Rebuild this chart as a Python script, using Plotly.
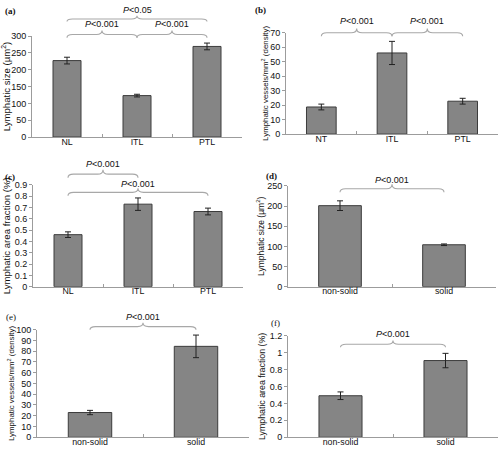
import plotly.graph_objects as go

W, H = 499, 454

# ---------------- data ----------------
cats_abc = ["NL", "ITL", "PTL"]
cats_b = ["NT", "ITL", "PTL"]
cats_def = ["non-solid", "solid"]

size_a = [227, 123, 269]
size_a_err = [10, 4, 10]
dens_b = [18.7, 56, 22.7]
dens_b_err = [2, 8, 2]
frac_c = [0.46, 0.73, 0.665]
frac_c_err = [0.025, 0.055, 0.03]
size_d = [201, 104]
size_d_err = [12, 2]
dens_e = [23, 84.5]
dens_e_err = [2, 10.5]
frac_f = [0.49, 0.905]
frac_f_err = [0.045, 0.085]

# comparisons: (group i, group j, p-value text)
cmp_a = [(0, 1, "0.001"), (1, 2, "0.001"), (0, 2, "0.05")]
cmp_b = [(0, 1, "0.001"), (1, 2, "0.001")]
cmp_c = [(0, 1, "0.001"), (0, 2, "0.001")]
cmp_d = [(0, 1, "0.001")]
cmp_e = [(0, 1, "0.001")]
cmp_f = [(0, 1, "0.001")]

T_SIZE = "Lymphatic size (µm<sup>2</sup>)"
T_DENS = "Lymphatic vessels/mm<sup>2</sup> (density)"
T_FRAC = "Lymphatic area fraction (%)"

# ---------------- layout spec (pixel boxes, styles) ----------------
# box: (left, top, right, bottom) in px; bracket levels: (base, tip, label) in data units
panels = [
    dict(tag="(a)", cats=cats_abc, y=size_a, e=size_a_err, cmp=cmp_a, title=T_SIZE,
         box=(32, 31.7, 242, 135), ymax=300, dtick=50, tfs=9.6, stand=3, bw=0.4,
         lev=[(295, 316, 337), (295, 316, 337), (343, 360, 377)], lab=(10, 6), bold=True),
    dict(tag="(b)", cats=cats_b, y=dens_b, e=dens_b_err, cmp=cmp_b, title=T_DENS,
         box=(286, 28.3, 498, 132), ymax=70, dtick=10, tfs=7.9, stand=0, bw=0.42,
         lev=[(67.5, 72.9, 78.3), (67.5, 72.9, 78.3)], lab=(260, 5), bold=True),
    dict(tag="(c)", cats=cats_abc, y=frac_c, e=frac_c_err, cmp=cmp_c, title=T_FRAC,
         box=(33, 184, 243, 288), ymax=0.9, dtick=0.1, tfs=9.6, stand=2, bw=0.4,
         lev=[(0.963, 1.035, 1.084), (0.805, 0.871, 0.906)], lab=(10, 175.5), bold=True),
    dict(tag="(d)", cats=cats_def, y=size_d, e=size_d_err, cmp=cmp_d, title=T_SIZE,
         box=(288, 185, 496, 288), ymax=250, dtick=50, tfs=8.5, stand=1, bw=0.41,
         lev=[(234, 254, 264.6)], lab=(271, 174.5), bold=True),
    dict(tag="(e)", cats=cats_def, y=dens_e, e=dens_e_err, cmp=cmp_e, title=T_DENS,
         box=(37, 332, 249, 442), ymax=100, dtick=10, tfs=7.9, stand=0, bw=0.41,
         lev=[(100, 106.4, 111.8)], lab=(11, 319), bold=False),
    dict(tag="(f)", cats=cats_def, y=frac_f, e=frac_f_err, cmp=cmp_f, title=T_FRAC,
         box=(288, 338, 498, 442), ymax=1.2, dtick=0.2, tfs=8.8, stand=2, bw=0.41,
         lev=[(1.061, 1.142, 1.215)], lab=(275, 325), bold=False),
]

FONT = "Liberation Sans, Arial, sans-serif"
AXC = "#9c9c9c"
BRC = "#a8a8a8"

fig = go.Figure()
layout = dict(width=W, height=H, margin=dict(l=0, r=0, t=0, b=0),
              plot_bgcolor="white", paper_bgcolor="white", showlegend=False,
              font=dict(family=FONT, size=9, color="#111"), hovermode=False)
shapes, annots = [], []

for k, p in enumerate(panels):
    n = k + 1
    xa = "x" if n == 1 else f"x{n}"
    ya = "y" if n == 1 else f"y{n}"
    L, T, R, B = p["box"]
    nc = len(p["cats"])
    xs = list(range(nc))
    fig.add_trace(go.Bar(
        x=xs, y=p["y"], width=p["bw"], xaxis=xa, yaxis=ya,
        marker=dict(color="#858585", line=dict(color="#3c3c3c", width=1)),
        error_y=dict(type="data", array=p["e"], visible=True, color="#222",
                     thickness=1, width=3),
    ))
    layout["xaxis" if n == 1 else f"xaxis{n}"] = dict(
        domain=[L / W, R / W], anchor=ya, range=[-0.5, nc - 0.5],
        tickmode="array", tickvals=xs, ticktext=p["cats"], ticks="",
        ticklabelstandoff=-4,
        showline=True, linecolor=AXC, linewidth=1, showgrid=False, zeroline=False,
        tickfont=dict(size=8.8, color="#111"), fixedrange=True,
        minor=dict(tickmode="array", tickvals=[i + 0.5 for i in range(nc - 1)],
                   ticks="inside", ticklen=3, tickcolor=AXC, showgrid=False),
    )
    layout["yaxis" if n == 1 else f"yaxis{n}"] = dict(
        domain=[1 - B / H, 1 - T / H], anchor=xa, range=[0, p["ymax"]],
        dtick=p["dtick"], tick0=0, ticks="outside", ticklen=3, tickcolor=AXC,
        showline=True, linecolor=AXC, linewidth=1, showgrid=False, zeroline=False,
        tickfont=dict(size=9, color="#111"), fixedrange=True,
        title=dict(text=p["title"], font=dict(size=p["tfs"], color="#111"),
                   standoff=p["stand"]),
    )
    # braces
    pxu = (R - L) / nc
    dx = 5.5 / pxu
    ymax = p["ymax"]
    for (i, j, ptxt), (base, tip, laby) in zip(p["cmp"], p["lev"]):
        x0, x1 = i, j
        xm = (x0 + x1) / 2
        yb = base / ymax
        yt = tip / ymax
        yh = yb + 0.45 * (yt - yb)
        path = (f"M{x0},{yb} Q{x0},{yh} {x0+dx},{yh} L{xm-dx},{yh} "
                f"Q{xm},{yh} {xm},{yt} Q{xm},{yh} {xm+dx},{yh} "
                f"L{x1-dx},{yh} Q{x1},{yh} {x1},{yb}")
        shapes.append(dict(type="path", path=path, xref=xa, yref=f"{ya} domain",
                           line=dict(color=BRC, width=1.1), layer="above"))
        annots.append(dict(x=xm, y=laby / ymax, xref=xa, yref=f"{ya} domain",
                           text=f"<i>P</i>&lt;{ptxt}", showarrow=False,
                           xanchor="center", yanchor="middle",
                           font=dict(size=9, color="#111")))
    lx, ly = p["lab"]
    tag = f"<b>{p['tag']}</b>" if p["bold"] else p["tag"]
    annots.append(dict(x=lx / W, y=1 - ly / H, xref="paper", yref="paper",
                       text=tag, showarrow=False, xanchor="center", yanchor="middle",
                       font=dict(family="Liberation Serif, Times New Roman, serif",
                                 size=9, color="#111")))

layout["shapes"] = shapes
layout["annotations"] = annots
fig.update_layout(**layout)
fig.write_html("out.html", config={"displayModeBar": False, "staticPlot": True},
               post_script="document.body.style.margin='0px';document.body.style.overflow='hidden';")
